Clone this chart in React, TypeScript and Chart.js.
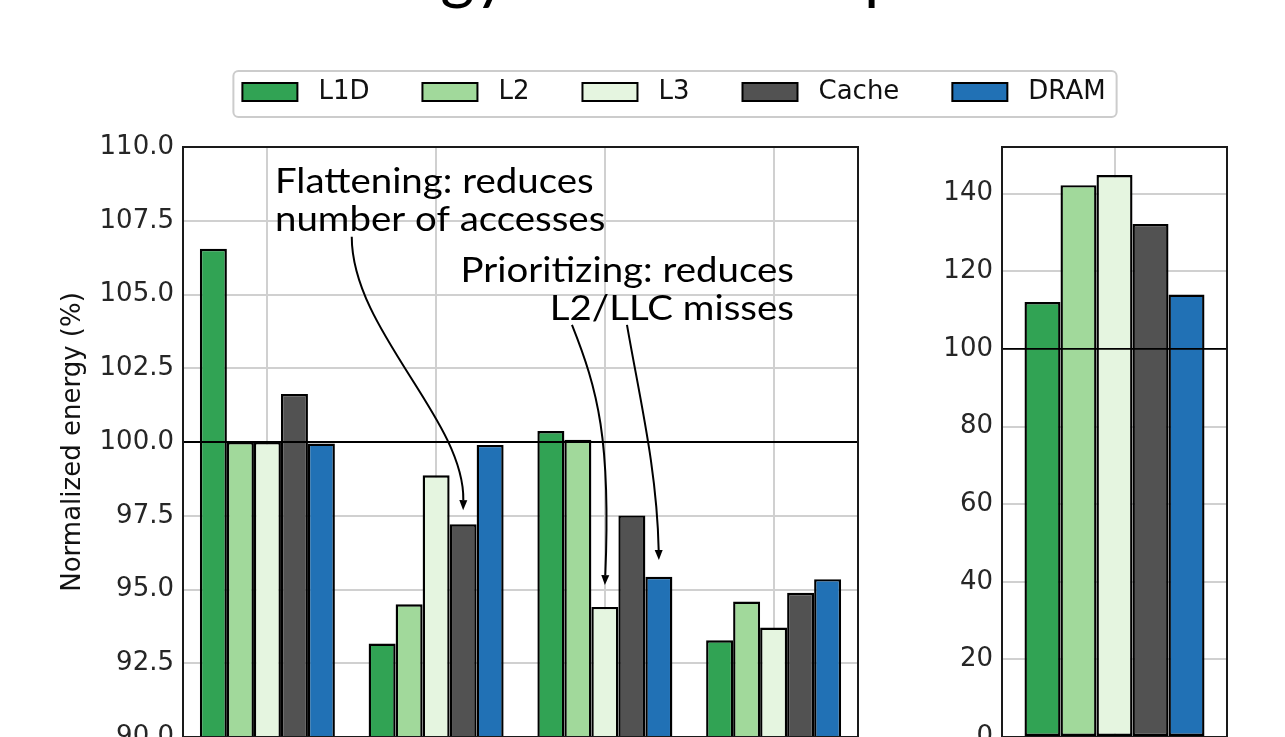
import React, { useEffect, useRef } from 'react';
import { Chart, registerables } from 'chart.js';

Chart.register(...registerables);

// ---------------- data ----------------
const TITLE = 'Energy breakdown per level';
const Y_LABEL = 'Normalized energy (%)';
const SERIES = ['L1D', 'L2', 'L3', 'Cache', 'DRAM'];
const COLORS = ['#31a354', '#a1d99b', '#e5f5e0', '#525252', '#2171b5'];

const LEFT_GROUPS = ['Reordering', 'Flattening', 'Prioritizing', 'Combined'];
const L1D_VALUES = [106.55, 93.17, 100.37, 93.28];
const L2_VALUES = [100.0, 94.5, 100.08, 94.59];
const L3_VALUES = [100.0, 98.87, 94.41, 93.71];
const CACHE_VALUES = [101.63, 97.21, 97.51, 94.89];
const DRAM_VALUES = [99.95, 99.9, 95.43, 95.35];
const LEFT_Y_MIN = 90;
const LEFT_Y_MAX = 110;
const LEFT_Y_STEP = 2.5;

const RIGHT_GROUPS = ['Unoptimized'];
const RIGHT_L1D = [112.1];
const RIGHT_L2 = [142.2];
const RIGHT_L3 = [144.8];
const RIGHT_CACHE = [132.2];
const RIGHT_DRAM = [114.0];
const RIGHT_Y_STEP = 20;

const REFERENCE_LINE = 100;

// annotation anchors in data coordinates of the left plot (x: category index, y: value)
const ANNOTATIONS = [
  { lines: ['Flattening: reduces', 'number of accesses'], x: 0.045, y: 108.45, align: 'left' },
  { lines: ['Prioritizing: reduces', 'L2/LLC misses'], x: 3.12, y: 105.43, align: 'right' },
];
const ARROWS = [
  [[0.5, 106.96], [0.5, 103.8], [1.17, 100.75], [1.16, 97.69]],
  [[1.805, 103.97], [1.959, 101.76], [2.036, 100.07], [2.0, 95.15]],
  [[2.131, 103.97], [2.208, 101.43], [2.309, 99.05], [2.32, 96.0]],
];

// ---------------- style ----------------
const FONT = '"DejaVu Sans", sans-serif';
const FONT_SIZE = 26;
const ANN_FONT = 'Lato, "Open Sans", sans-serif';
const ANN_WEIGHT = 400;
const ANN_SIZE = 34;
const ANN_STRETCH = 1.13;
const ANN_LINE_H = 38.5;
const TITLE_SIZE = 66;
const TITLE_STRETCH = 1.0;
const TITLE_CX = 709;
const TITLE_BASELINE = -3;
const GRID_COLOR = '#d0d0d0';
const TICK_COLOR = '#262626';
const LEGEND_CX = 675;
const LEGEND_CY = 94;
const BAR_BORDER = 2.4;
const X_AXIS_HEIGHT = 63;

const frameAndRefLine = {
  id: 'frameAndRefLine',
  afterDatasetsDraw(chart: any) {
    const { ctx, chartArea: a, scales } = chart;
    const py = scales.y.getPixelForValue(REFERENCE_LINE);
    ctx.save();
    ctx.strokeStyle = '#000';
    ctx.lineWidth = 1.8;
    ctx.beginPath();
    ctx.moveTo(a.left, py);
    ctx.lineTo(a.right, py);
    ctx.stroke();
    ctx.strokeStyle = '#1a1a1a';
    ctx.lineWidth = 2;
    ctx.strokeRect(a.left, a.top, a.right - a.left, a.bottom - a.top);
    ctx.restore();
  },
};

function drawStretched(ctx: CanvasRenderingContext2D, text: string, x: number, y: number, align: string, stretch: number) {
  const w = ctx.measureText(text).width * stretch;
  let lx = x;
  if (align === 'right') lx = x - w;
  if (align === 'center') lx = x - w / 2;
  ctx.save();
  ctx.translate(lx, y);
  ctx.scale(stretch, 1);
  ctx.fillText(text, 0, 0);
  ctx.restore();
}

const annotationPlugin = {
  id: 'annotations',
  afterDraw(chart: any) {
    const { ctx, scales } = chart;
    const xs = scales.x;
    const ys = scales.y;
    ctx.save();
    ctx.fillStyle = '#000';
    ctx.textAlign = 'left';
    ctx.textBaseline = 'alphabetic';
    ctx.font = `${ANN_WEIGHT} ${ANN_SIZE}px ${ANN_FONT}`;
    ANNOTATIONS.forEach((ann) => {
      const px = xs.getPixelForValue(ann.x);
      const py = ys.getPixelForValue(ann.y);
      ann.lines.forEach((line, i) => drawStretched(ctx, line, px, py + i * ANN_LINE_H, ann.align, ANN_STRETCH));
    });
    // arrows
    ctx.strokeStyle = '#000';
    ctx.lineWidth = 2;
    ARROWS.forEach((pts) => {
      const p = pts.map(([vx, vy]) => [xs.getPixelForValue(vx), ys.getPixelForValue(vy)]);
      const [p0, p1, p2, p3] = p;
      const dx = p3[0] - p2[0];
      const dy = p3[1] - p2[1];
      const len = Math.hypot(dx, dy) || 1;
      const ux = dx / len;
      const uy = dy / len;
      const headL = 10;
      const headW = 4;
      const bx = p3[0] - ux * headL;
      const by = p3[1] - uy * headL;
      ctx.beginPath();
      ctx.moveTo(p0[0], p0[1]);
      ctx.bezierCurveTo(p1[0], p1[1], p2[0], p2[1], bx, by);
      ctx.stroke();
      ctx.beginPath();
      ctx.moveTo(p3[0], p3[1]);
      ctx.lineTo(bx - uy * headW, by + ux * headW);
      ctx.lineTo(bx + uy * headW, by - ux * headW);
      ctx.closePath();
      ctx.fill();
    });
    // figure title (mostly above the visible page)
    ctx.font = `${ANN_WEIGHT} ${TITLE_SIZE}px ${ANN_FONT}`;
    drawStretched(ctx, TITLE, TITLE_CX, TITLE_BASELINE, 'center', TITLE_STRETCH);
    ctx.restore();
  },
};

const boxLegend = {
  id: 'boxLegend',
  afterDraw(chart: any) {
    const { ctx } = chart;
    ctx.save();
    ctx.font = `${FONT_SIZE}px ${FONT}`;
    const items = chart.data.datasets.map((d: any) => ({
      label: d.label,
      color: d.backgroundColor,
      w: ctx.measureText(d.label).width,
    }));
    const boxW = 55, boxH = 18, gapText = 21, colGap = 53, padL = 9, padR = 11, h = 46;
    const total = items.reduce((s: number, it: any) => s + boxW + gapText + it.w, 0) + colGap * (items.length - 1);
    const fw = total + padL + padR;
    const fx = LEGEND_CX - fw / 2;
    const fy = LEGEND_CY - h / 2;
    ctx.beginPath();
    ctx.roundRect(fx, fy, fw, h, 5);
    ctx.fillStyle = 'rgba(255,255,255,0.85)';
    ctx.fill();
    ctx.strokeStyle = '#cccccc';
    ctx.lineWidth = 2;
    ctx.stroke();
    let cx = fx + padL;
    const cy = LEGEND_CY - 2;
    ctx.textBaseline = 'middle';
    ctx.textAlign = 'left';
    items.forEach((it: any) => {
      ctx.fillStyle = it.color;
      ctx.fillRect(cx, cy - boxH / 2, boxW, boxH);
      ctx.strokeStyle = '#000';
      ctx.lineWidth = 2;
      ctx.strokeRect(cx, cy - boxH / 2, boxW, boxH);
      ctx.fillStyle = '#111';
      ctx.fillText(it.label, cx + boxW + gapText, cy);
      cx += boxW + gapText + it.w + colGap;
    });
    ctx.restore();
  },
};

function baseOptions(yMin: number, yMax: number, step: number, decimals: number, padding: any, yWidth: number, withTitle: boolean) {
  return {
    responsive: false,
    animation: false as const,
    devicePixelRatio: 1,
    events: [],
    layout: { padding },
    plugins: {
      legend: { display: false },
      tooltip: { enabled: false },
      title: { display: false },
    },
    scales: {
      x: {
        type: 'category',
        offset: true,
        grid: { offset: false, color: GRID_COLOR, lineWidth: 2, drawTicks: false },
        border: { display: false },
        ticks: { font: { family: FONT, size: FONT_SIZE }, color: TICK_COLOR, padding: 9, maxRotation: 0 },
        afterFit: (scale: any) => {
          scale.height = X_AXIS_HEIGHT;
        },
      },
      y: {
        min: yMin,
        max: yMax,
        grid: { color: GRID_COLOR, lineWidth: 2, drawTicks: false },
        border: { display: false },
        ticks: {
          stepSize: step,
          includeBounds: false,
          font: { family: FONT, size: FONT_SIZE },
          color: TICK_COLOR,
          padding: 9,
          callback: (v: any) => Number(v).toFixed(decimals),
        },
        title: {
          display: withTitle,
          text: Y_LABEL,
          font: { family: FONT, size: FONT_SIZE },
          color: '#111',
          padding: { top: 4, bottom: 4 },
        },
        afterFit: (scale: any) => {
          scale.width = yWidth;
        },
      },
    },
  };
}

function makeDatasets(values: number[][]) {
  return SERIES.map((name, i) => ({
    label: name,
    data: values[i],
    backgroundColor: COLORS[i],
    borderColor: '#000',
    borderWidth: BAR_BORDER,
    borderSkipped: false,
    categoryPercentage: 0.8,
    barPercentage: 1.0,
  }));
}

export default function App() {
  const leftRef = useRef<HTMLCanvasElement | null>(null);
  const rightRef = useRef<HTMLCanvasElement | null>(null);

  useEffect(() => {
    const left = new Chart(leftRef.current as HTMLCanvasElement, {
      type: 'bar',
      data: {
        labels: LEFT_GROUPS,
        datasets: makeDatasets([L1D_VALUES, L2_VALUES, L3_VALUES, CACHE_VALUES, DRAM_VALUES]) as any,
      },
      options: baseOptions(LEFT_Y_MIN, LEFT_Y_MAX, LEFT_Y_STEP, 1, { top: 147, left: 54, right: 427, bottom: 0 }, 129, true) as any,
      plugins: [frameAndRefLine, annotationPlugin, boxLegend],
    });
    const rightMax = Math.max(...RIGHT_L1D, ...RIGHT_L2, ...RIGHT_L3, ...RIGHT_CACHE, ...RIGHT_DRAM) * 1.05;
    const right = new Chart(rightRef.current as HTMLCanvasElement, {
      type: 'bar',
      data: {
        labels: RIGHT_GROUPS,
        datasets: makeDatasets([RIGHT_L1D, RIGHT_L2, RIGHT_L3, RIGHT_CACHE, RIGHT_DRAM]) as any,
      },
      options: baseOptions(0, rightMax, RIGHT_Y_STEP, 0, { top: 147, left: 0, right: 58, bottom: 0 }, 122, false) as any,
      plugins: [frameAndRefLine],
    });
    return () => {
      left.destroy();
      right.destroy();
    };
  }, []);

  return (
    <div style={{ position: 'fixed', left: 0, top: 0, width: 1285, height: 737, overflow: 'hidden', background: '#fff' }}>
      <canvas ref={leftRef} width={1285} height={800} style={{ position: 'absolute', left: 0, top: 0 }} />
      <canvas ref={rightRef} width={405} height={800} style={{ position: 'absolute', left: 880, top: 0 }} />
    </div>
  );
}
